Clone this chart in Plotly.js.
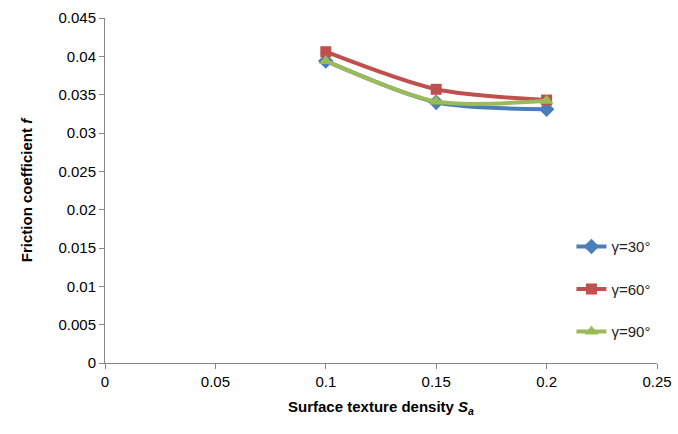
<!DOCTYPE html>
<html><head><meta charset="utf-8">
<script src="https://cdn.plot.ly/plotly-3.0.1.min.js"></script>
<style>html,body{margin:0;padding:0;background:#fff}</style>
</head><body><div id="chart" style="width:678px;height:434px"></div>
<script>
const density = [0.1, 0.15, 0.2];
const gamma30 = [0.0394, 0.0340, 0.0331];
const gamma60 = [0.0406, 0.0357, 0.0343];
const gamma90 = [0.0394, 0.0341, 0.0342];
const seriesNames = ['γ=30°', 'γ=60°', 'γ=90°'];
const xTicks = [0, 0.05, 0.1, 0.15, 0.2, 0.25];
const xTickText = ['0', '0.05', '0.1', '0.15', '0.2', '0.25'];
const yTicks = [0, 0.005, 0.01, 0.015, 0.02, 0.025, 0.03, 0.035, 0.04, 0.045];
const yTickText = ['0', '0.005', '0.01', '0.015', '0.02', '0.025', '0.03', '0.035', '0.04', '0.045'];

const mk = (y, name, color, symbol, size, g) => ({
  x: density, y: y, name: name, legendgroup: g, type: 'scatter', mode: 'lines+markers',
  line: {color: color, width: 4, shape: 'spline', smoothing: 0.8},
  marker: {color: color, symbol: symbol, size: size}
});
const data = [
  mk(gamma30, seriesNames[0], '#4a7ebb', 'diamond', 12, 'a'),
  mk(gamma60, seriesNames[1], '#c0504d', 'square', 11, 'b'),
  mk(gamma90, seriesNames[2], '#9bbb59', 'triangle-up', 12, 'c')
];
const font = {family: 'Liberation Sans, Arial, sans-serif', size: 15, color: '#000'};
const layout = {
  width: 678, height: 434,
  margin: {l: 105, r: 21, t: 18, b: 71},
  paper_bgcolor: '#fff', plot_bgcolor: '#fff',
  font: font,
  showlegend: true,
  legend: {x: 0.845, y: 0.385, xanchor: 'left', yanchor: 'top', font: {size: 15, color: '#222'}, traceorder: 'grouped', tracegroupgap: 20, itemwidth: 30, bgcolor: 'rgba(0,0,0,0)'},
  xaxis: {
    range: [0, 0.25], tickvals: xTicks, ticktext: xTickText,
    showgrid: false, zeroline: false, showline: true, linecolor: '#868686', linewidth: 1,
    ticks: 'outside', ticklen: 5, tickcolor: '#868686',
    title: {text: '<b>Surface texture density <i>S</i><sub><i>a</i></sub></b>', font: {size: 15}, standoff: 12}
  },
  yaxis: {
    range: [0, 0.045], tickvals: yTicks, ticktext: yTickText,
    showgrid: false, zeroline: false, showline: true, linecolor: '#868686', linewidth: 1,
    ticks: 'outside', ticklen: 5, tickcolor: '#868686',
    title: {text: '<b>Friction coefficient <i>f</i></b>', font: {size: 15}, standoff: 22}
  }
};
Plotly.newPlot('chart', data, layout, {displayModeBar: false, staticPlot: true});
</script></body></html>
